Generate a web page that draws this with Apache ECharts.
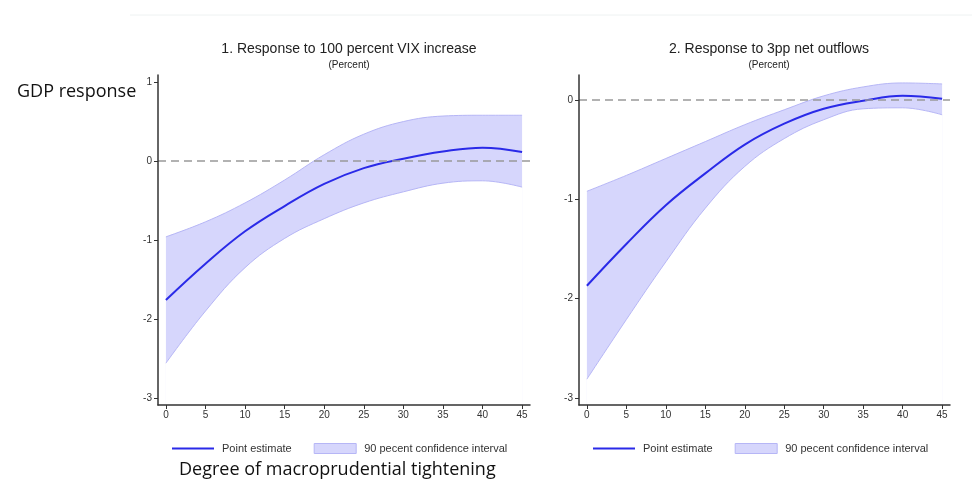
<!DOCTYPE html>
<html>
<head>
<meta charset="utf-8">
<script src="https://cdn.jsdelivr.net/npm/echarts@6/dist/echarts.min.js"></script>
<style>
  html, body { margin: 0; padding: 0; background: #fff; }
  #chart { width: 972px; height: 479px; }
</style>
</head>
<body>
<div id="chart"></div>
<script>
// x: degree of macroprudential tightening
let xVals = [0, 5, 10, 15, 20, 25, 30, 35, 40, 45];
let xTicks = [0, 5, 10, 15, 20, 25, 30, 35, 40, 45];

// panel 1: response to 100 percent VIX increase
let vixPoint = [-1.76, -1.30, -0.89, -0.57, -0.29, -0.09, 0.03, 0.12, 0.17, 0.115];
let vixUpper = [-0.96, -0.77, -0.53, -0.24, 0.08, 0.34, 0.50, 0.57, 0.58, 0.58];
let vixLower = [-2.56, -1.90, -1.35, -0.98, -0.73, -0.53, -0.39, -0.28, -0.25, -0.33];
let vixTicks = [-3, -2, -1, 0, 1];

// panel 2: response to 3pp net outflows
let outPoint = [-1.87, -1.45, -1.06, -0.74, -0.45, -0.24, -0.09, -0.01, 0.04, 0.01];
let outUpper = [-0.92, -0.76, -0.59, -0.42, -0.25, -0.10, 0.04, 0.13, 0.17, 0.16];
let outLower = [-2.81, -2.21, -1.63, -1.09, -0.67, -0.39, -0.20, -0.09, -0.08, -0.15];
let outTicks = [-3, -2, -1, 0];

let lineName = 'Point estimate';
let bandName = '90 pecent confidence interval';

let font = 'Liberation Sans, Arial, sans-serif';
let lineColor = '#2a2ae8';
let bandFill = '#d6d6fc';
let bandEdge = '#b6b6f6';
let smooth = 0.4;

let pairs = arr => arr.map((v, i) => [xVals[i], v]);

// 一个面板：上界填充到底部，下界用白色盖住，剩下的就是置信带
let panelSeries = (idx, point, upper, lower) => [{
    name: bandName,
    type: 'line',
    xAxisIndex: idx, yAxisIndex: idx,
    data: pairs(upper),
    smooth: smooth,
    symbol: 'none',
    silent: true,
    itemStyle: { color: bandFill },
    lineStyle: { color: bandEdge, width: 1 },
    areaStyle: { color: bandFill, opacity: 1, origin: 'start' },
    z: 2
}, {
    name: 'lower' + idx,
    type: 'line',
    xAxisIndex: idx, yAxisIndex: idx,
    data: pairs(lower),
    smooth: smooth,
    symbol: 'none',
    silent: true,
    lineStyle: { color: bandEdge, width: 1 },
    areaStyle: { color: '#fff', opacity: 1, origin: 'start' },
    z: 3
}, {
    name: lineName,
    type: 'line',
    xAxisIndex: idx, yAxisIndex: idx,
    data: pairs(point),
    smooth: smooth,
    symbol: 'none',
    itemStyle: { color: lineColor },
    lineStyle: { color: lineColor, width: 2 },
    markLine: {
        silent: true,
        symbol: 'none',
        label: { show: false },
        lineStyle: { color: '#999', type: [8, 5], width: 1.5 },
        data: [{ yAxis: 0 }]
    },
    z: 4
}];

let xAxisCfg = idx => ({
    type: 'value', gridIndex: idx, min: -1, max: 46, z: 6,
    splitLine: { show: false },
    axisLine: { onZero: false, lineStyle: { color: '#333', width: 1.5 } },
    axisTick: { customValues: xTicks, length: 4, lineStyle: { color: '#333' } },
    axisLabel: { customValues: xTicks, color: '#333', fontSize: 10, fontFamily: font, margin: 5 }
});

let yAxisCfg = (idx, min, max, ticks) => ({
    type: 'value', gridIndex: idx, min: min, max: max, z: 6,
    splitLine: { show: false },
    axisLine: { show: true, onZero: false, lineStyle: { color: '#333', width: 1.5 } },
    axisTick: { show: true, customValues: ticks, length: 4, lineStyle: { color: '#333' } },
    axisLabel: { customValues: ticks, color: '#333', fontSize: 10, fontFamily: font, margin: 6 }
});

let legendCfg = left => ({
    left: left, top: 438,
    itemWidth: 42, itemHeight: 10, itemGap: 22,
    textStyle: { color: '#333', fontSize: 11, fontFamily: font, padding: [0, 0, 0, 3] },
    selectedMode: false,
    data: [
        { name: lineName, icon: 'path://M0,0L100,0L100,5L0,5Z', itemStyle: { color: lineColor } },
        { name: bandName, icon: 'rect', itemStyle: { color: bandFill, borderColor: bandEdge, borderWidth: 1 } }
    ]
});

let titleCfg = (text, center) => ({
    text: text, subtext: '(Percent)',
    left: center, top: 37, textAlign: 'center', itemGap: 4,
    textStyle: { color: '#222', fontSize: 14, fontWeight: 'normal', fontFamily: font },
    subtextStyle: { color: '#222', fontSize: 10, fontFamily: font }
});

let chart = echarts.init(document.getElementById('chart'), null, { renderer: 'canvas' });
chart.setOption({
    animation: false,
    backgroundColor: '#fff',
    title: [
        titleCfg('1. Response to 100 percent VIX increase', 344),
        titleCfg('2. Response to 3pp net outflows', 764),
        { text: 'GDP response', left: 12, top: 78,
          textStyle: { color: '#111', fontSize: 18, fontWeight: 'normal', fontFamily: 'Open Sans, Noto Sans, sans-serif' } },
        { text: 'Degree of macroprudential tightening', left: 174, top: 456,
          textStyle: { color: '#111', fontSize: 18, fontWeight: 'normal', fontFamily: 'Open Sans, Noto Sans, sans-serif' } }
    ],
    legend: [legendCfg(167), legendCfg(588)],
    grid: [
        { left: 158, right: 442, top: 75, bottom: 74 },
        { left: 579, right: 22, top: 75, bottom: 74 }
    ],
    xAxis: [xAxisCfg(0), xAxisCfg(1)],
    yAxis: [yAxisCfg(0, -3.09, 1.09, vixTicks), yAxisCfg(1, -3.07, 0.25, outTicks)],
    series: [].concat(
        panelSeries(0, vixPoint, vixUpper, vixLower),
        panelSeries(1, outPoint, outUpper, outLower)
    ),
    graphic: [{
        type: 'line', silent: true,
        shape: { x1: 130, y1: 15, x2: 972, y2: 15 },
        style: { stroke: '#eef2f2', lineWidth: 1 }
    }]
});
</script>
</body>
</html>
